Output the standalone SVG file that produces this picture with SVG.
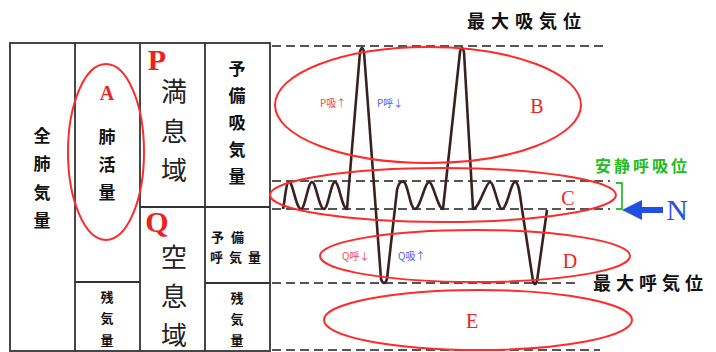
<svg xmlns="http://www.w3.org/2000/svg" width="716" height="352" viewBox="0 0 716 352">
<style>
.tbl{stroke:#333;stroke-width:1.8;fill:none}
.dash{stroke:#555;stroke-width:2;stroke-dasharray:9 5;fill:none}
.ell{stroke:#ff2a2a;stroke-width:2;fill:none}
.cj{font-family:"Noto Sans CJK JP","Noto Sans CJK SC",sans-serif;font-weight:bold;fill:#111;text-anchor:middle}
.big{font-family:"Noto Sans CJK JP","Noto Sans CJK SC",sans-serif;font-weight:normal;fill:#222;text-anchor:middle;font-size:26px}
.lab{font-family:"Liberation Serif",serif;fill:#ee2222;text-anchor:middle}
.sm{font-family:"Noto Sans CJK JP","Noto Sans CJK SC",sans-serif;font-size:10px}
</style>
<rect width="716" height="352" fill="#fff"/>
<g id="table">
<rect class="tbl" x="10" y="43" width="260" height="308"/>
<line class="tbl" x1="75" y1="43" x2="75" y2="351"/>
<line class="tbl" x1="140" y1="43" x2="140" y2="351"/>
<line class="tbl" x1="205" y1="43" x2="205" y2="351"/>
<line class="tbl" x1="75" y1="282" x2="140" y2="282"/>
<line class="tbl" x1="140" y1="207" x2="270" y2="207"/>
<line class="tbl" x1="205" y1="283" x2="270" y2="283"/>
</g>
<g id="col1">
<text class="cj" font-size="17" x="42" y="142">全</text>
<text class="cj" font-size="17" x="42" y="170">肺</text>
<text class="cj" font-size="17" x="42" y="199">気</text>
<text class="cj" font-size="17" x="42" y="227">量</text>
</g>
<g id="col2">
<text class="lab" font-size="20" font-weight="bold" x="107" y="100">A</text>
<text class="cj" font-size="17" x="107" y="143">肺</text>
<text class="cj" font-size="17" x="107" y="171">活</text>
<text class="cj" font-size="17" x="107" y="199">量</text>
<ellipse class="ell" cx="106" cy="152" rx="38" ry="88"/>
<text class="cj" font-size="13" x="107" y="302">残</text>
<text class="cj" font-size="13" x="107" y="323">気</text>
<text class="cj" font-size="13" x="107" y="345">量</text>
</g>
<g id="col3">
<text class="lab" font-size="30" font-weight="bold" x="157" y="70">P</text>
<text class="big" x="174" y="101">満</text>
<text class="big" x="174" y="141">息</text>
<text class="big" x="174" y="180">域</text>
<text class="lab" font-size="30" font-weight="bold" x="157" y="232">Q</text>
<text class="big" x="174" y="267">空</text>
<text class="big" x="174" y="306">息</text>
<text class="big" x="174" y="345">域</text>
</g>
<g id="col4">
<text class="cj" font-size="17" x="237" y="75">予</text>
<text class="cj" font-size="17" x="237" y="102">備</text>
<text class="cj" font-size="17" x="237" y="129">吸</text>
<text class="cj" font-size="17" x="237" y="156">気</text>
<text class="cj" font-size="17" x="237" y="183">量</text>
<text class="cj" font-size="13" x="211" y="242" style="text-anchor:start;letter-spacing:7px">予備</text>
<text class="cj" font-size="13" x="210" y="262" style="text-anchor:start;letter-spacing:6px">呼気量</text>
<text class="cj" font-size="13" x="237" y="303">残</text>
<text class="cj" font-size="13" x="237" y="324">気</text>
<text class="cj" font-size="13" x="237" y="345">量</text>
</g>
<g id="connectors">
<line class="dash" x1="272" y1="46" x2="608" y2="46"/>
<line class="dash" x1="272" y1="181" x2="610" y2="181"/>
<line class="dash" x1="272" y1="209" x2="610" y2="209"/>
<line class="dash" x1="272" y1="283" x2="580" y2="283"/>
<line class="dash" x1="272" y1="350" x2="600" y2="350"/>
<path d="M283,209 C285,200 286,182 289,182 C293,182 296,209 301,209 C305,209 308,182 312,182 C316,182 319,209 324,209 C328,209 331,182 335,182 C339,182 342,209 347,209 L360,52 Q362,44 364,52 L381,279 Q384,287 387,279 L397,190 C399,182 401,181 404,182 C408,184 410,209 415,209 C420,209 425,182 429,182 C433,182 438,209 443,209 L460,52 Q462,44 464,52 L473,209 C479,209 486,182 490,182 C494,182 498,209 502,209 C507,209 511,182 515,182 C519,182 520,196 522,209 L533,281 Q535,287 537,281 L547,210" fill="none" stroke="#3a2020" stroke-width="2.6" stroke-linejoin="round"/>
</g>
<g id="ellipses">
<ellipse class="ell" cx="428" cy="105" rx="153" ry="58"/>
<ellipse class="ell" cx="443" cy="195" rx="173" ry="27"/>
<ellipse class="ell" cx="475" cy="256" rx="155" ry="26"/>
<ellipse class="ell" cx="478" cy="320" rx="154" ry="30"/>
</g>
<g id="labels">
<text class="lab" font-size="20" x="537" y="113">B</text>
<text class="lab" font-size="20" x="568" y="205">C</text>
<text class="lab" font-size="20" x="570" y="268">D</text>
<text class="lab" font-size="20" x="472" y="328">E</text>
<text class="sm" x="320" y="107" fill="#f04848">P吸↑</text>
<text class="sm" x="377" y="107" fill="#5a5af0">P呼↓</text>
<text class="sm" x="342" y="260" fill="#f04848">Q呼↓</text>
<text class="sm" x="398" y="260" fill="#5a5af0">Q吸↑</text>
<text class="cj" font-size="18" x="467" y="28" style="text-anchor:start;letter-spacing:6px">最大吸気位</text>
<text class="cj" font-size="18" x="593" y="290" style="text-anchor:start;letter-spacing:5px">最大呼気位</text>
<text class="cj" font-size="16" x="595" y="172" style="text-anchor:start;letter-spacing:3px;fill:#22bb22">安静呼吸位</text>
</g>
<g id="N">
<path d="M616,183 L622,183 L622,209 L616,209" fill="none" stroke="#30c030" stroke-width="1.8"/>
<line x1="638" y1="210" x2="663" y2="210" stroke="#2050e0" stroke-width="6"/>
<polygon points="622,210 642,200 642,220" fill="#2050e0"/>
<text x="677" y="220" font-family="Liberation Serif,serif" font-size="30" fill="#2a4ee0" text-anchor="middle">N</text>
</g>
</svg>
